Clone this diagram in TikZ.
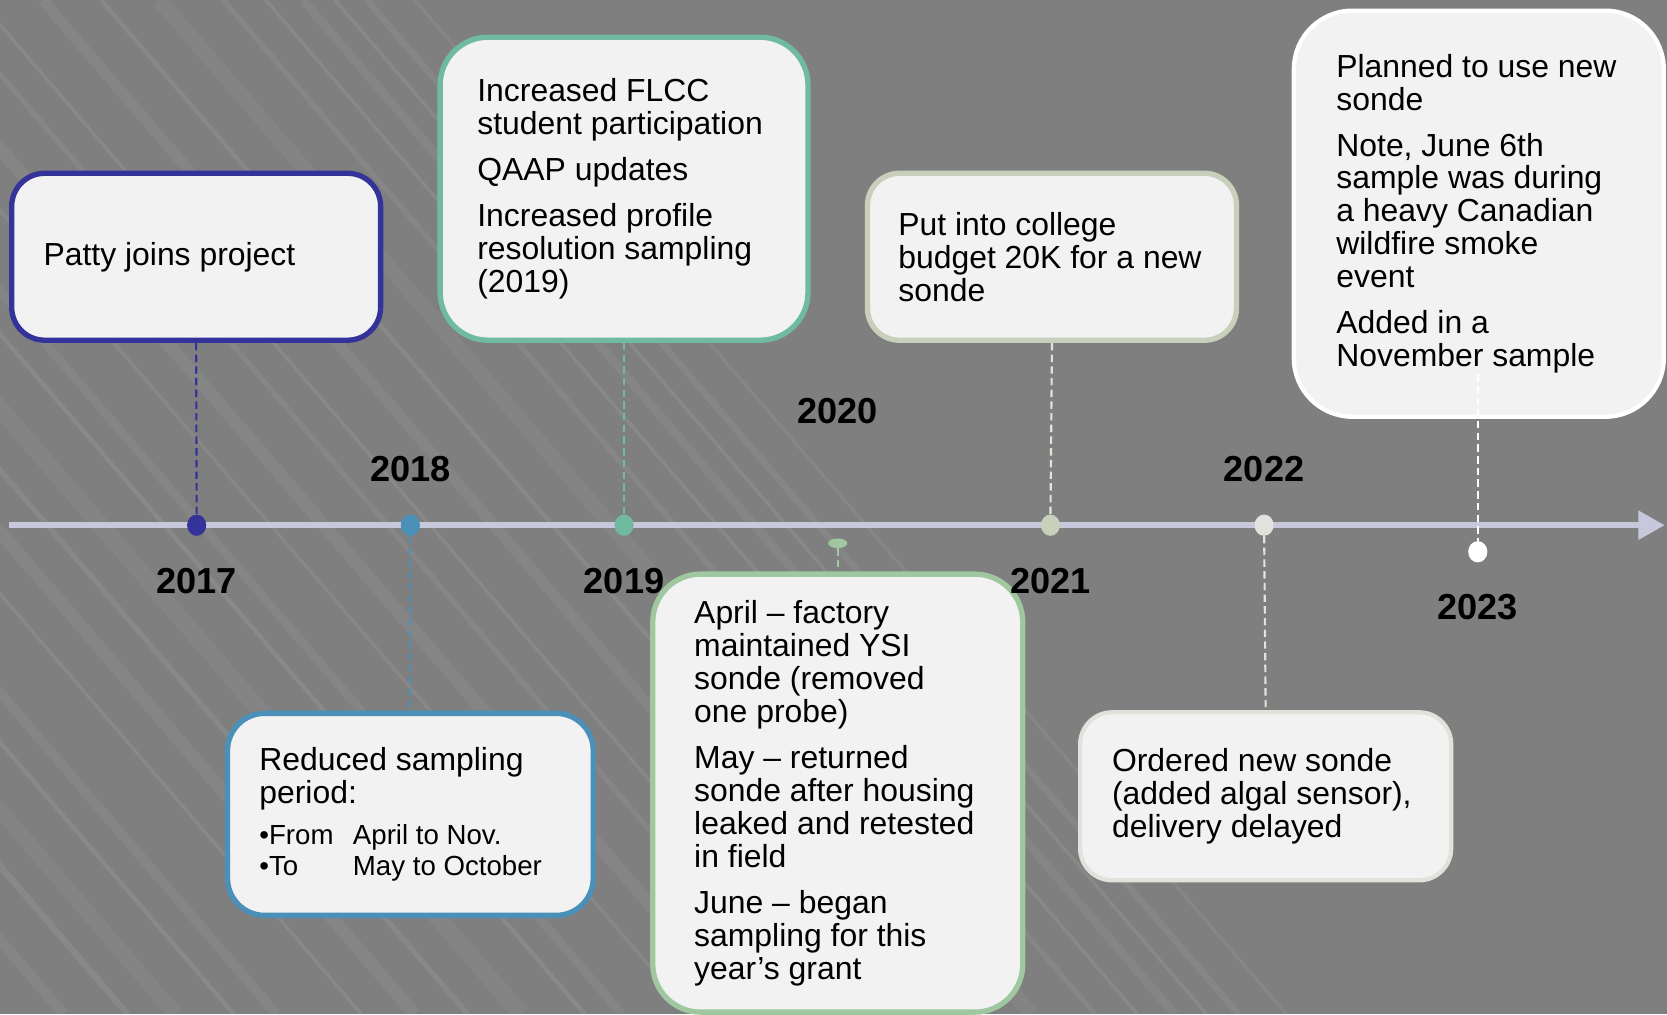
\documentclass[tikz,border=0pt]{standalone}
\usepackage{fontspec}
\setmainfont{Liberation Sans}
\usetikzlibrary{arrows.meta,shapes.geometric}

\definecolor{bgray}{RGB}{127,127,127}
\definecolor{boxfill}{RGB}{242,242,242}
\definecolor{axis}{RGB}{200,200,220}
\definecolor{c17}{RGB}{51,51,153}
\definecolor{c18}{RGB}{74,144,184}
\definecolor{c19}{RGB}{112,186,160}
\definecolor{c20}{RGB}{160,200,160}
\definecolor{c21}{RGB}{200,208,188}
\definecolor{c22}{RGB}{226,226,220}
\definecolor{c21s}{RGB}{225,228,215}

\newcommand\evfont{\fontsize{30}{31}\selectfont}
\newcommand\subfont{\fontsize{26}{29}\selectfont}
\newcommand\yrfont{\fontsize{34}{40}\selectfont\bfseries}

\tikzset{
  evbox/.style={draw=#1, line width=5pt, fill=boxfill, inner sep=0pt, align=left, font=\evfont,
    execute at begin node={\spaceskip=0pt\relax\xspaceskip=0pt\relax}},
  evdot/.style={ellipse, fill=#1, inner sep=0pt, minimum width=18pt, minimum height=20pt},
  stem/.style={draw=#1, line width=2pt, dash pattern=on 7pt off 4pt},
  yearlab/.style={font=\yrfont, inner sep=0pt},
}

\begin{document}
\begin{tikzpicture}[x=1pt,y=-1pt]
  %%%%% BACKGROUND %%%%%
  \useasboundingbox (0,0) rectangle (1568,954);
  \fill[bgray] (0,0) rectangle (1568,954);
  \begin{scope}
    \clip (0,0) rectangle (1568,954);
    \foreach \s/\w/\o in {-760/10/.05,-700/6/.07,-655/14/.04,-600/4/.08,-560/9/.05,-480/3/.08,-430/12/.05,-380/5/.07,-330/16/.04,-270/4/.08,-235/8/.05,-170/3/.07,-120/12/.05,-60/5/.06,-20/3/.08,40/10/.05,95/4/.07,150/14/.04,210/5/.06,250/3/.08,285/8/.05,315/3/.08,345/6/.06,390/3/.06}
      \draw[white, line width=\w pt, opacity=\o] (\s,0) -- ++(820,954);
  \end{scope}

  %%%%% TIMELINE %%%%%
  \coordinate (t0) at (8,494);
  \coordinate (t1) at (1566,494);
  \draw[axis, line width=6pt, -{Triangle[length=25pt,width=26pt]}] (t0) -- (t1);

  %%%%% EVENTS %%%%%
  \node[evbox=c17, rounded corners=31pt, minimum width=347pt, minimum height=157pt, text width=287pt] (b17) at (184.5,241.5) {Patty joins project};

  \node[evbox=c18, rounded corners=35pt, minimum width=344pt, minimum height=190pt, text width=284pt] (b18) at (386,766)
    {Reduced sampling\\period:\par\vspace{10pt}
     {\subfont\makebox[88pt][l]{•From}April to Nov.\\\makebox[88pt][l]{•To}May to October\par}};

  \node[evbox=c19, rounded corners=45pt, minimum width=346pt, minimum height=285pt, text width=276pt] (b19) at (587,177.5)
    {Increased FLCC\\student participation\\[12pt]QAAP updates\\[12pt]Increased profile\\resolution sampling\\(2019)};

  \node[evbox=c20, rounded corners=45pt, minimum width=348pt, minimum height=412pt, text width=270pt] (b20) at (788,746)
    {April – factory\\maintained YSI\\sonde (removed\\one probe)\\[13pt]May – returned\\sonde after housing\\leaked and retested\\in field\\[12pt]June – began\\sampling for this\\year’s grant};

  \node[evbox=c21, rounded corners=30pt, minimum width=347pt, minimum height=157pt, text width=289pt] (b21) at (989.5,241.5)
    {Put into college\\budget 20K for a new\\sonde};

  \node[evbox=c22, line width=4pt, rounded corners=30pt, minimum width=349pt, minimum height=158pt, text width=289pt] (b22) at (1190.5,749)
    {Ordered new sonde\\(added algal sensor),\\delivery delayed};

  \node[evbox=white, line width=4pt, rounded corners=55pt, minimum width=348pt, minimum height=382pt, text width=268pt] (b23) at (1391,201)
    {Planned to use new\\sonde\\[12pt]Note, June 6th\\sample was during\\a heavy Canadian\\wildfire smoke\\event\\[12pt]Added in a\\November sample};

  %%%%% DOTS %%%%%
  \node[evdot=c17] (d17) at (185,494) {};
  \node[evdot=c18] (d18) at (386,494) {};
  \node[evdot=c19] (d19) at (587,494) {};
  \node[evdot=c20, minimum height=9pt] (d20) at (788,511) {};
  \node[evdot=c21] (d21) at (988,494) {};
  \node[evdot=c22] (d22) at (1189,494) {};
  \node[evdot=white] (d23) at (1390,519) {};

  %%%%% STEMS %%%%%
  \draw[stem=c17] (b17.south) -- (d17);
  \draw[stem=c18] (d18) -- (b18.north);
  \draw[stem=c19] (b19.south) -- (d19);
  \draw[stem=c20] (d20) -- (b20.north);
  \draw[stem=c21s] (b21.south) -- (d21);
  \draw[stem=c22] (d22) -- (b22.north);
  \coordinate (s23) at (1390,352);
  \draw[stem=white] (s23) -- (d23);

  %%%%% YEARS %%%%%
  \node[yearlab] (y17) at (185,547) {2017};
  \node[yearlab] (y18) at (386,441) {2018};
  \node[yearlab] (y19) at (587,547) {2019};
  \node[yearlab] (y20) at (788,387) {2020};
  \node[yearlab] (y21) at (988,547) {2021};
  \node[yearlab] (y22) at (1189,441) {2022};
  \node[yearlab] (y23) at (1390,571) {2023};
\end{tikzpicture}
\end{document}
